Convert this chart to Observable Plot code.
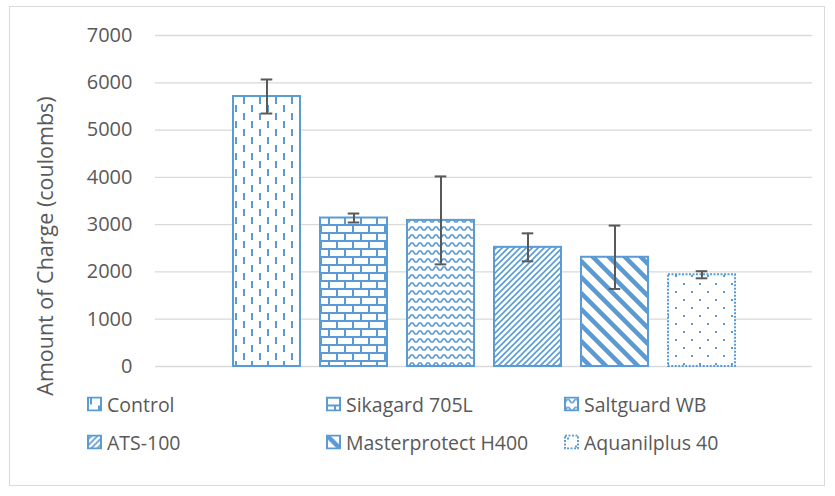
<!DOCTYPE html>
<html>
<head>
<meta charset="utf-8">
<script src="https://cdn.jsdelivr.net/npm/d3@7"></script>
<script src="https://cdn.jsdelivr.net/npm/@observablehq/plot@0.6"></script>
<style>
  body { margin: 0; background: #fff; font-family: "Open Sans", sans-serif; }
  #wrap { position: relative; width: 835px; height: 496px; overflow: hidden; }
  #frame { position: absolute; left: 9px; top: 6px; width: 816px; height: 480px; border: 1px solid #d9d9d9; box-sizing: border-box; }
  #chart { position: absolute; left: 0; top: 0; }
  #ylabel { position: absolute; left: 44px; top: 246px; transform: translate(-50%, -50%) rotate(-90deg); white-space: nowrap; font-size: 21.5px; color: #595959; }
  .leg { position: absolute; display: flex; align-items: center; font-size: 19.5px; color: #595959; white-space: nowrap; transform: translateY(-50%); }
  .leg svg { margin-right: 5px; }
</style>
</head>
<body>
<div id="wrap">
  <div id="frame"></div>
  <div id="chart"></div>
  <div id="ylabel">Amount of Charge (coulombs)</div>
</div>
<script>
const categories = ["Control", "Sikagard 705L", "Saltguard WB", "ATS-100", "Masterprotect H400", "Aquanilplus 40"];
const means = [5710, 3140, 3090, 2520, 2310, 1940];
const errors = [360, 95, 930, 296, 670, 75];
const yTicks = [0, 1000, 2000, 3000, 4000, 5000, 6000, 7000];

const blue = "#5b9bd5";
const data = categories.map((name, i) => ({name, value: means[i], err: errors[i], pat: `url(#pat${i})`}));

const ns = "http://www.w3.org/2000/svg";
function defsMark() {
  const defs = document.createElementNS(ns, "defs");
  defs.innerHTML = `
    <pattern id="pat0" patternUnits="userSpaceOnUse" width="16" height="16">
      <rect width="16" height="16" fill="#fff"/>
      <rect x="3" y="1" width="2" height="7" fill="${blue}"/>
      <rect x="11" y="9" width="2" height="7" fill="${blue}"/>
    </pattern>
    <pattern id="pat1" patternUnits="userSpaceOnUse" width="16" height="16">
      <rect width="16" height="16" fill="#fff"/>
      <rect x="0" y="0" width="16" height="2" fill="${blue}"/>
      <rect x="0" y="8" width="16" height="2" fill="${blue}"/>
      <rect x="0" y="0" width="2" height="8" fill="${blue}"/>
      <rect x="8" y="8" width="2" height="8" fill="${blue}"/>
    </pattern>
    <pattern id="pat2" patternUnits="userSpaceOnUse" width="8" height="8">
      <rect width="8" height="8" fill="#fff"/>
      <path d="M0 6 H1 L3 3 H5 L7 6 H8" fill="none" stroke="${blue}" stroke-width="1.6"/>
    </pattern>
    <pattern id="pat3" patternUnits="userSpaceOnUse" width="6" height="6">
      <rect width="6" height="6" fill="#fff"/>
      <path d="M-1 7 L7 -1 M-1 1 L1 -1 M5 7 L7 5" stroke="${blue}" stroke-width="1.6"/>
    </pattern>
    <pattern id="pat4" patternUnits="userSpaceOnUse" width="16" height="16">
      <rect width="16" height="16" fill="#fff"/>
      <path d="M-4 -4 L20 20 M-4 12 L4 20 M12 -4 L20 4" stroke="${blue}" stroke-width="4.5"/>
    </pattern>
    <pattern id="pat5" patternUnits="userSpaceOnUse" width="16" height="16">
      <rect width="16" height="16" fill="#fff"/>
      <rect x="3" y="3" width="2" height="2" fill="${blue}"/>
      <rect x="11" y="11" width="2" height="2" fill="${blue}"/>
    </pattern>`;
  return defs;
}

const chart = Plot.plot({
  width: 835,
  height: 380,
  marginTop: 35,
  marginBottom: 14,
  marginLeft: 155,
  marginRight: 23,
  style: {fontFamily: "Open Sans, sans-serif", fontSize: "20px", color: "#595959", background: "transparent"},
  x: {type: "band", domain: categories, range: [221, 746], paddingInner: 0.207, paddingOuter: 0.1035, axis: null},
  y: {domain: [0, 7000], ticks: yTicks, label: null},
  color: {type: "identity"},
  marks: [
    defsMark,
    Plot.gridY(yTicks, {stroke: "#d9d9d9", strokeOpacity: 1, strokeWidth: 1.3}),
    Plot.axisY(yTicks, {tickSize: 0, tickPadding: 23, fill: "#595959", fontSize: 20, label: null, tickFormat: d => String(d)}),
    Plot.barY(data.slice(0, 5), {x: "name", y: "value", fill: "pat", stroke: blue, strokeWidth: 2, insetLeft: 1, insetRight: 1}),
    Plot.barY(data.slice(5), {x: "name", y: "value", fill: "pat", stroke: blue, strokeWidth: 2, strokeDasharray: "2 1.5", insetLeft: 1, insetRight: 1}),
    Plot.ruleX(data, {x: "name", y1: d => d.value - d.err, y2: d => d.value + d.err, stroke: "#595959", strokeWidth: 2}),
    Plot.tickY(data, {x: "name", y: d => d.value + d.err, stroke: "#595959", strokeWidth: 2, insetLeft: 28.7, insetRight: 28.7}),
    Plot.tickY(data, {x: "name", y: d => d.value - d.err, stroke: "#595959", strokeWidth: 2, insetLeft: 28.7, insetRight: 28.7})
  ]
});
document.getElementById("chart").appendChild(chart);

// Legend
const legendCols = [87, 326, 564];
const legendRows = [404, 442];
const wrap = document.getElementById("wrap");
categories.forEach((name, i) => {
  const div = document.createElement("div");
  div.className = "leg";
  div.style.left = legendCols[i % 3] + "px";
  div.style.top = legendRows[Math.floor(i / 3)] + "px";
  const dash = i === 5 ? ' stroke-dasharray="2 1.5"' : "";
  div.innerHTML = `<svg width="15" height="15"><rect x="1" y="1" width="13" height="13" fill="url(#pat${i})" stroke="${blue}" stroke-width="2"${dash}/></svg><span>${name}</span>`;
  wrap.appendChild(div);
});
</script>
</body>
</html>
